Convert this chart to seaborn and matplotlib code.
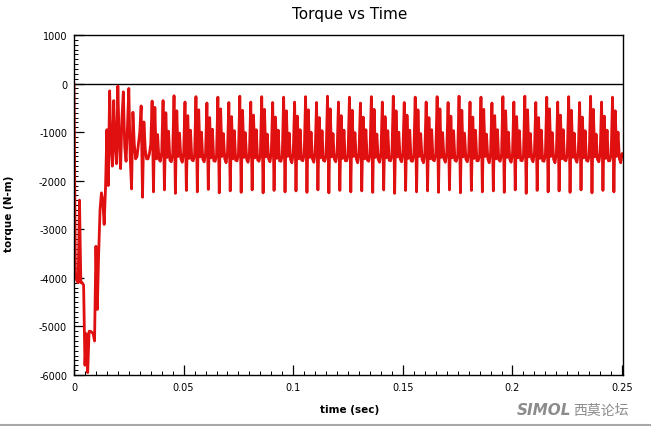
import numpy as np
import pandas as pd
import matplotlib
matplotlib.use("Agg")
import matplotlib.pyplot as plt
import seaborn as sns
from matplotlib.ticker import MultipleLocator, FixedLocator
from matplotlib.lines import Line2D

# ---------------- data ----------------
sample_step = 0.000625  # seconds between samples

torque_startup = [
    0, -3900, -4050, -4100, -2400, -4100, -4100, -4150,
    -5800, -5150, -5950, -5100, -5100, -5120, -5150, -5300,
    -3350, -4650, -3500, -2600, -2250, -2400, -2900, -2150,
    -950, -2100, -150, -1300, -1700, -350, -1300, -1650,
    -50, -1200, -1750, -700, -170, -1300, -1600, -900,
    -100, -1500, -2170, -590, -1250, -1550, -1500, -1250,
    -1000, -460, -2340, -790, -1350, -1550, -1550, -1450,
    -1250,
]

torque_steady = [
    -360, -2230, -490, -1550, -1050, -1560, -1600, -1420,
    -350, -2190, -600, -1520, -980, -1580, -1610, -1460,
    -250, -2260, -560, -1500, -1020, -1550, -1620, -1430,
    -380, -2200, -660, -1540, -960, -1570, -1590, -1470,
    -270, -2230, -540, -1510, -1000, -1560, -1610, -1440,
    -400, -2180, -700, -1530, -940, -1590, -1600, -1480,
    -280, -2250, -520, -1500, -1030, -1550, -1630, -1420,
    -390, -2210, -680, -1550, -970, -1580, -1590, -1460,
    -260, -2240, -550, -1520, -1010, -1560, -1620, -1440,
    -380, -2190, -650, -1530, -950, -1570, -1600, -1470,
    -270, -2250, -530, -1510, -1040, -1550, -1610, -1430,
    -390, -2200, -690, -1540, -960, -1590, -1600, -1480,
    -280, -2230, -560, -1500, -1020, -1560, -1630, -1440,
    -380, -2210, -670, -1550, -950, -1570, -1590, -1460,
    -270, -2240, -540, -1520, -1000, -1550, -1620, -1430,
    -390, -2190, -700, -1530, -970, -1580, -1600, -1480,
    -260, -2250, -520, -1510, -1030, -1560, -1610, -1440,
    -380, -2200, -660, -1540, -960, -1590, -1590, -1470,
    -280, -2230, -550, -1500, -1010, -1550, -1630, -1430,
    -400, -2210, -690, -1550, -950, -1570, -1600, -1460,
    -270, -2240, -530, -1520, -1040, -1560, -1620, -1440,
    -380, -2190, -680, -1530, -970, -1580, -1590, -1480,
    -260, -2260, -560, -1510, -1000, -1550, -1610, -1430,
    -390, -2200, -650, -1540, -960, -1590, -1600, -1470,
    -280, -2230, -540, -1500, -1030, -1560, -1630, -1440,
    -380, -2210, -700, -1550, -950, -1570, -1590, -1460,
    -270, -2240, -520, -1520, -1010, -1550, -1620, -1430,
    -390, -2190, -670, -1530, -970, -1580, -1600, -1480,
    -260, -2250, -550, -1510, -1020, -1560, -1610, -1440,
    -380, -2200, -690, -1540, -960, -1590, -1590, -1470,
    -280, -2230, -530, -1500, -1040, -1550, -1630, -1430,
    -400, -2210, -660, -1550, -950, -1570, -1600, -1460,
    -270, -2240, -560, -1520, -1000, -1560, -1620, -1440,
    -380, -2190, -680, -1530, -970, -1580, -1590, -1480,
    -260, -2260, -540, -1510, -1030, -1550, -1610, -1430,
    -390, -2200, -700, -1540, -960, -1590, -1600, -1470,
    -280, -2230, -520, -1500, -1010, -1560, -1630, -1440,
    -380, -2210, -650, -1550, -950, -1570, -1590, -1460,
    -270, -2240, -550, -1520, -1020, -1550, -1620, -1430,
    -390, -2190, -690, -1530, -970, -1580, -1600, -1480,
    -260, -2250, -530, -1510, -1040, -1560, -1610, -1440,
    -380, -2200, -670, -1540, -960, -1590, -1590, -1470,
    -280, -2230, -560, -1500, -1000, -1550, -1630, -1440,
]

x_ticks = [0, 0.05, 0.1, 0.15, 0.2, 0.25]
x_tick_labels = ["0", "0.05", "0.1", "0.15", "0.2", "0.25"]
y_ticks = [-6000, -5000, -4000, -3000, -2000, -1000, 0, 1000]
y_tick_labels = ["-6000", "-5000", "-4000", "-3000", "-2000", "-1000", "0", "1000"]

torque = torque_startup + torque_steady
time = np.arange(len(torque)) * sample_step
df = pd.DataFrame({"time": time, "torque": torque})

# ---------------- figure ----------------
sns.set_style("white")
plt.rcParams["font.family"] = ["DejaVu Sans", "Noto Sans CJK SC"]

W, H = 651, 427
fig = plt.figure(figsize=(W / 100, H / 100), dpi=100)
ax_left, ax_right, ax_top, ax_bottom = 74, 623, 36, 376
ax = fig.add_axes([ax_left / W, 1 - ax_bottom / H,
                   (ax_right - ax_left) / W, (ax_bottom - ax_top) / H])

ax.axhline(0, color="black", lw=1.0, zorder=1)
sns.lineplot(data=df, x="time", y="torque", ax=ax, estimator=None, sort=False,
             color="#e01010", lw=2.0, zorder=2)

ax.set_xlim(0, 0.2504)
ax.set_ylim(-6000, 1000)
ax.xaxis.set_major_locator(FixedLocator(x_ticks))
ax.set_xticklabels(x_tick_labels)
ax.yaxis.set_major_locator(FixedLocator(y_ticks))
ax.set_yticklabels(y_tick_labels)
ax.xaxis.set_minor_locator(MultipleLocator(0.005))
ax.yaxis.set_minor_locator(MultipleLocator(100))
ax.tick_params(axis="both", which="major", direction="in", length=7, width=0.9,
               color="black", labelsize=7, labelcolor="black")
ax.tick_params(axis="both", which="minor", direction="in", length=3, width=0.7,
               color="black")
ax.tick_params(axis="x", which="major", pad=5)
ax.tick_params(axis="y", which="major", pad=5)
ax.tick_params(left=True, bottom=True, top=False, right=False, which="both")
for s in ax.spines.values():
    s.set_color("black")
    s.set_linewidth(1.0)
ax.set_xlabel("")
ax.set_ylabel("")

fig.text(350 / W, 1 - 14 / H, "Torque vs Time", ha="center", va="center",
         fontsize=11, color="black")
fig.text(350 / W, 1 - 410 / H, "time (sec)", ha="center", va="center",
         fontsize=7.5, fontweight="bold", color="black")
fig.text(9 / W, 1 - 214 / H, "torque (N-m)", ha="center", va="center",
         rotation=90, fontsize=7.5, fontweight="bold", color="black")

# watermark
fig.text(571 / W, 1 - 411 / H, "SIMOL", ha="right", va="center",
         fontsize=11, fontweight="bold", fontstyle="italic", color="#8c8c8c")
fig.text(573 / W, 1 - 411 / H, "西莫论坛", ha="left", va="center",
         fontsize=10, color="#8c8c8c",
         family=["Noto Sans CJK SC", "DejaVu Sans"])
fig.add_artist(Line2D([0, 1], [1 - 425.5 / H, 1 - 425.5 / H],
                      transform=fig.transFigure, color="#a8a8a8", lw=1.5))

fig.savefig("out.png", dpi=100)
